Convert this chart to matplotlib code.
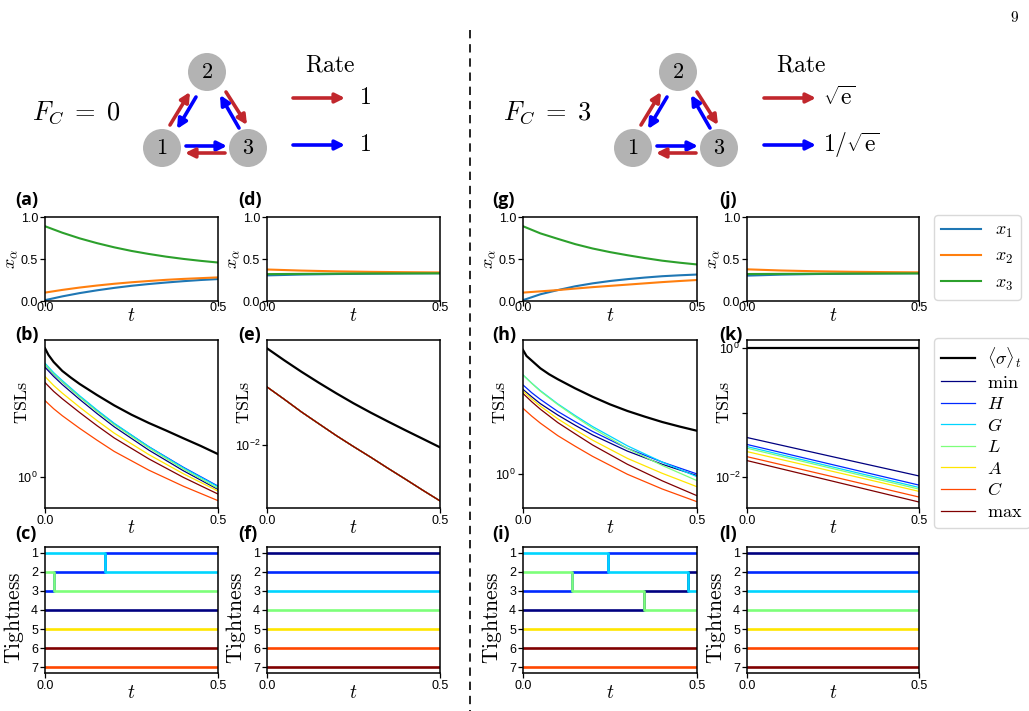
import matplotlib
matplotlib.use("Agg")
import matplotlib.pyplot as plt
import numpy as np
from matplotlib.patches import Circle

plt.rcParams["mathtext.fontset"] = "cm"
plt.rcParams["font.family"] = "Liberation Sans"
plt.rcParams["axes.linewidth"] = 1.1

W, H = 1029, 711

# ---------------- data ----------------
t_frac = [0.0, 0.05, 0.1, 0.15, 0.2, 0.25, 0.3, 0.35, 0.4, 0.45, 0.5]
t_flat = [0.0, 0.1, 0.2, 0.3, 0.4, 0.5]
t_sigma = [0.0, 0.01, 0.025, 0.05, 0.075, 0.1, 0.15, 0.2, 0.25, 0.3, 0.35, 0.4, 0.45, 0.5]
t_tsl = [0.0, 0.01, 0.025, 0.05, 0.1, 0.15, 0.2, 0.3, 0.4, 0.5]
t_tsl_e = [0.0, 0.05, 0.1, 0.15, 0.2, 0.25, 0.3, 0.35, 0.4, 0.45, 0.5]
t_tsl_k = [0.0, 0.25, 0.5]

# x_alpha, F_C = 0
a_x1 = [0.01, 0.055, 0.094, 0.127, 0.156, 0.181, 0.202, 0.220, 0.236, 0.250, 0.261]
a_x2 = [0.10, 0.132, 0.160, 0.184, 0.205, 0.223, 0.238, 0.252, 0.263, 0.272, 0.281]
a_x3 = [0.89, 0.813, 0.746, 0.689, 0.639, 0.596, 0.560, 0.528, 0.501, 0.478, 0.458]
d_x1 = [0.305, 0.315, 0.321, 0.325, 0.328, 0.330]
d_x2 = [0.375, 0.362, 0.353, 0.347, 0.343, 0.340]
d_x3 = [0.320, 0.323, 0.326, 0.328, 0.329, 0.330]
# x_alpha, F_C = 3
g_x1 = [0.01, 0.08, 0.13, 0.175, 0.21, 0.238, 0.26, 0.279, 0.295, 0.306, 0.315]
g_x2 = [0.10, 0.115, 0.13, 0.148, 0.165, 0.18, 0.195, 0.21, 0.225, 0.238, 0.25]
g_x3 = [0.89, 0.805, 0.74, 0.677, 0.625, 0.582, 0.545, 0.511, 0.48, 0.456, 0.435]
j_x1 = [0.302, 0.314, 0.321, 0.325, 0.328, 0.330]
j_x2 = [0.377, 0.363, 0.354, 0.348, 0.344, 0.341]
j_x3 = [0.321, 0.323, 0.325, 0.327, 0.328, 0.329]

measures = ["min", "H", "G", "L", "A", "C", "max"]

# TSLs (b)
b_sigma = [7.21, 6.51, 5.84, 5.09, 4.59, 4.17, 3.52, 3.00, 2.60, 2.29, 2.04, 1.81, 1.61, 1.42]
b_min = [5.38, 5.09, 4.68, 4.13, 3.29, 2.65, 2.16, 1.51, 1.10, 0.826]
b_H = [5.58, 5.28, 4.85, 4.30, 3.43, 2.77, 2.26, 1.59, 1.16, 0.869]
b_G = [5.73, 5.41, 4.96, 4.39, 3.48, 2.80, 2.28, 1.59, 1.15, 0.861]
b_L = [5.61, 5.30, 4.86, 4.30, 3.41, 2.74, 2.23, 1.56, 1.13, 0.839]
b_A = [4.67, 4.42, 4.07, 3.62, 2.92, 2.38, 1.96, 1.41, 1.05, 0.805]
b_C = [3.23, 3.07, 2.85, 2.56, 2.11, 1.76, 1.48, 1.11, 0.867, 0.695]
b_max = [4.26, 4.03, 3.72, 3.32, 2.69, 2.20, 1.82, 1.32, 0.993, 0.769]

# TSLs (e): all bounds coincide
e_sigma = [0.0545, 0.0441, 0.0360, 0.0297, 0.0247, 0.0207, 0.01755, 0.0150, 0.01287, 0.01108, 0.00953]
e_bound = [0.0276, 0.0222, 0.01774, 0.01442, 0.01173, 0.00966, 0.0080, 0.00658, 0.00544, 0.00448, 0.00371]

# TSLs (h)
h_sigma = [6.71, 6.12, 5.70, 5.06, 4.62, 4.28, 3.72, 3.27, 2.91, 2.63, 2.41, 2.22, 2.07, 1.94]
h_min = [3.66, 3.50, 3.27, 2.94, 2.47, 2.11, 1.82, 1.42, 1.16, 0.975]
h_H = [3.92, 3.74, 3.48, 3.14, 2.61, 2.23, 1.92, 1.48, 1.20, 1.00]
h_G = [4.57, 4.35, 4.03, 3.59, 2.93, 2.45, 2.07, 1.54, 1.20, 0.959]
h_L = [4.57, 4.34, 4.02, 3.56, 2.90, 2.41, 2.02, 1.48, 1.14, 0.902]
h_A = [3.57, 3.40, 3.16, 2.83, 2.33, 1.97, 1.68, 1.27, 1.01, 0.822]
h_C = [2.74, 2.61, 2.43, 2.18, 1.80, 1.53, 1.31, 0.995, 0.794, 0.653]
h_max = [3.44, 3.27, 3.03, 2.70, 2.20, 1.85, 1.56, 1.16, 0.90, 0.716]

# TSLs (k)
k_sigma = [1.0, 1.0, 1.0]
k_min = [0.041, 0.0206, 0.0104]
k_H = [0.032, 0.0155, 0.0075]
k_G = [0.0297, 0.0143, 0.0069]
k_L = [0.028, 0.0135, 0.0065]
k_A = [0.0248, 0.0122, 0.0060]
k_C = [0.0207, 0.0101, 0.0049]
k_max = [0.018, 0.0086, 0.0041]

# Tightness ranks: (switch times, ranks), step "post"
c_rank = {
    "min": ([0.0, 0.5], [4, 4]),
    "H": ([0.0, 0.027, 0.173, 0.5], [3, 2, 1, 1]),
    "G": ([0.0, 0.173, 0.5], [1, 2, 2]),
    "L": ([0.0, 0.027, 0.5], [2, 3, 3]),
    "A": ([0.0, 0.5], [5, 5]),
    "C": ([0.0, 0.5], [7, 7]),
    "max": ([0.0, 0.5], [6, 6]),
}
f_rank = {m: ([0.0, 0.5], [r, r]) for m, r in zip(measures, [1, 2, 3, 4, 5, 6, 7])}
i_rank = {
    "min": ([0.0, 0.349, 0.475, 0.5], [4, 3, 2, 2]),
    "H": ([0.0, 0.14, 0.245, 0.5], [3, 2, 1, 1]),
    "G": ([0.0, 0.245, 0.475, 0.5], [1, 2, 3, 3]),
    "L": ([0.0, 0.14, 0.349, 0.5], [2, 3, 4, 4]),
    "A": ([0.0, 0.5], [5, 5]),
    "C": ([0.0, 0.5], [7, 7]),
    "max": ([0.0, 0.5], [6, 6]),
}
l_rank = {m: ([0.0, 0.5], [r, r]) for m, r in zip(measures, [1, 2, 3, 4, 5, 6, 7])}

measure_labels = [r"$\mathrm{min}$", r"$H$", r"$G$", r"$L$", r"$A$", r"$C$", r"$\mathrm{max}$"]
colors = plt.cm.jet(np.linspace(0, 1, 7))

# ---------------- layout ----------------
fig = plt.figure(figsize=(W / 100, H / 100), dpi=100, facecolor="white")

cols = [(45, 218), (267, 440), (523, 697), (747, 919)]
rows = [(217, 301), (340, 508), (547, 673)]


def add_ax(col, row):
    l, r = cols[col]
    t, b = rows[row]
    return fig.add_axes([l / W, 1 - b / H, (r - l) / W, (b - t) / H])


def finish(ax, row, ylabel, ylab_px, ylab_y, ylab_size=13):
    l, r = cols[0]
    t, b = rows[row]
    wpx, hpx = r - l, b - t
    ax.set_xlim(0, 0.5)
    ax.set_xticks([0.0, 0.5])
    ax.set_xticklabels(["0.0", "0.5"])
    ax.tick_params(labelsize=9, length=3.5, width=0.9)
    ax.tick_params(axis="y", pad=1.5)
    ax.tick_params(axis="x", pad=-2.8 if row == 0 else 1.5)
    ax.set_xlabel(r"$t$", fontsize=14)
    ax.set_ylabel(ylabel, fontsize=ylab_size)
    ax.xaxis.set_label_coords(0.5, -(7 if row == 0 else 12) / hpx)
    ax.yaxis.set_label_coords(-ylab_px / wpx, ylab_y)


def plot_frac(ax, t, x1, x2, x3):
    ax.plot(t, x1, color="tab:blue", lw=1.5, label=r"$x_1$")
    ax.plot(t, x2, color="tab:orange", lw=1.5, label=r"$x_2$")
    ax.plot(t, x3, color="tab:green", lw=1.5, label=r"$x_3$")
    ax.set_ylim(0, 1)
    ax.set_yticks([0.0, 0.5, 1.0])
    ax.set_yticklabels(["0.0", "0.5", "1.0"])
    finish(ax, 0, r"$x_\alpha$", 25, 0.5)


def plot_tsl(ax, ts, sigma, tb, bounds, ylim, yticks, ylabels):
    ax.plot(ts, sigma, color="black", lw=1.6, label=r"$\langle\sigma\rangle_t$")
    for vals, c, lab in zip(bounds, colors, measure_labels):
        ax.plot(tb, vals, color=c, lw=0.9, label=lab)
    ax.set_yscale("log")
    ax.set_ylim(*ylim)
    ax.yaxis.set_minor_locator(matplotlib.ticker.NullLocator())
    ax.set_yticks(yticks)
    ax.set_yticklabels(ylabels)
    finish(ax, 1, r"$\mathrm{TSLs}$", 14, 0.63)


def plot_rank(ax, ranks):
    for m, c in zip(measures, colors):
        tt, rr = ranks[m]
        ax.step(tt, rr, where="post", color=c, lw=1.9)
    ax.set_ylim(7.3, 0.7)
    ax.set_yticks(range(1, 8))
    finish(ax, 2, r"$\mathrm{Tightness}$", 19, 0.44, 15.5)


# row 1
ax_a = add_ax(0, 0)
plot_frac(ax_a, t_frac, a_x1, a_x2, a_x3)
plot_frac(add_ax(1, 0), t_flat, d_x1, d_x2, d_x3)
plot_frac(add_ax(2, 0), t_frac, g_x1, g_x2, g_x3)
plot_frac(add_ax(3, 0), t_flat, j_x1, j_x2, j_x3)

# row 2
lab0 = [r"$\mathdefault{10^{0}}$"]
plot_tsl(add_ax(0, 1), t_sigma, b_sigma, t_tsl, [b_min, b_H, b_G, b_L, b_A, b_C, b_max],
         (10 ** -0.207, 10 ** 0.913), [1.0], lab0)
plot_tsl(add_ax(1, 1), t_tsl_e, e_sigma, t_tsl_e, [e_bound] * 7,
         (10 ** -2.485, 10 ** -1.2), [0.01], [r"$\mathdefault{10^{-2}}$"])
plot_tsl(add_ax(2, 1), t_sigma, h_sigma, t_tsl, [h_min, h_H, h_G, h_L, h_A, h_C, h_max],
         (10 ** -0.227, 10 ** 0.893), [1.0], lab0)
ax_k = add_ax(3, 1)
plot_tsl(ax_k, t_tsl_k, k_sigma, t_tsl_k, [k_min, k_H, k_G, k_L, k_A, k_C, k_max],
         (10 ** -2.48, 10 ** 0.125), [0.01, 0.1, 1.0],
         [r"$\mathdefault{10^{-2}}$", "", r"$\mathdefault{10^{0}}$"])

# row 3
plot_rank(add_ax(0, 2), c_rank)
plot_rank(add_ax(1, 2), f_rank)
plot_rank(add_ax(2, 2), i_rank)
plot_rank(add_ax(3, 2), l_rank)

# panel letters
letter_x = [15, 238, 492, 719]
letter_y = [200, 335, 534]
letters = ["adgj", "behk", "cfil"]
for ri, row_letters in enumerate(letters):
    for ci, ch in enumerate(row_letters):
        fig.text(letter_x[ci] / W, 1 - letter_y[ri] / H, f"({ch})", fontsize=13,
                 fontweight="bold", family="Open Sans", ha="left", va="center")

# legends
h1, l1 = ax_a.get_legend_handles_labels()
fig.legend(h1, l1, loc="upper left", bbox_to_anchor=(934 / W, 1 - 215 / H),
           fontsize=13, handlelength=2.2, handletextpad=0.8, labelspacing=0.45,
           borderaxespad=0, edgecolor="#d0d0d0")
h2, l2 = ax_k.get_legend_handles_labels()
fig.legend(h2, l2, loc="upper left", bbox_to_anchor=(934 / W, 1 - 338 / H),
           fontsize=13, handlelength=1.85, handletextpad=0.7, labelspacing=0.25,
           borderaxespad=0, edgecolor="#d0d0d0")

# ---------------- schematic ----------------
dax = fig.add_axes([0, 0, 1, 1], zorder=-1)
dax.set_xlim(0, W)
dax.set_ylim(H, 0)
dax.axis("off")

red = "#c1272d"
blue = "#0000ff"


def arrow(x0, y0, x1, y1, color):
    dax.annotate("", xy=(x1, y1), xytext=(x0, y0),
                 arrowprops=dict(arrowstyle="-|>", color=color, lw=2.6,
                                 mutation_scale=14, shrinkA=0, shrinkB=0))


def schematic(dx, fc_text, rate_red, rate_blue, rate_lx):
    nodes = {"1": (162, 148), "2": (207, 72), "3": (248, 148)}
    for name, (x, y) in nodes.items():
        dax.add_patch(Circle((x + dx, y), 19, color="#b3b3b3", lw=0))
        dax.text(x + dx, y + 1, f"${name}$", fontsize=16, ha="center", va="center")
    arrow(170 + dx, 125, 190 + dx, 92, red)
    arrow(196 + dx, 97, 177 + dx, 129, blue)
    arrow(226 + dx, 92, 247 + dx, 125, red)
    arrow(239 + dx, 128, 220 + dx, 95, blue)
    arrow(186 + dx, 146, 227 + dx, 146, blue)
    arrow(225 + dx, 153, 185 + dx, 153, red)
    dax.text(32 + dx, 113, fc_text, fontsize=19, ha="left", va="center")
    dax.text(330 + dx, 65, r"$\mathrm{Rate}$", fontsize=17, ha="center", va="center")
    arrow(293 + dx, 98, 345 + dx, 98, red)
    arrow(293 + dx, 145, 345 + dx, 145, blue)
    dax.text(rate_lx + dx, 98, rate_red, fontsize=17, ha="left", va="center")
    dax.text(rate_lx + dx, 145, rate_blue, fontsize=17, ha="left", va="center")


schematic(0, r"$F_C\;=\;0$", r"$1$", r"$1$", 359)
schematic(471, r"$F_C\;=\;3$", r"$\sqrt{\mathrm{e}}$", r"$1/\sqrt{\mathrm{e}}$", 352)

# divider and page number
dax.plot([470, 470], [30, H], color="black", lw=1.2, ls=(0, (5, 3.5)))
dax.text(1015, 18, r"$9$", fontsize=11, ha="center", va="center")

fig.savefig("out.png", dpi=100, facecolor="white")
